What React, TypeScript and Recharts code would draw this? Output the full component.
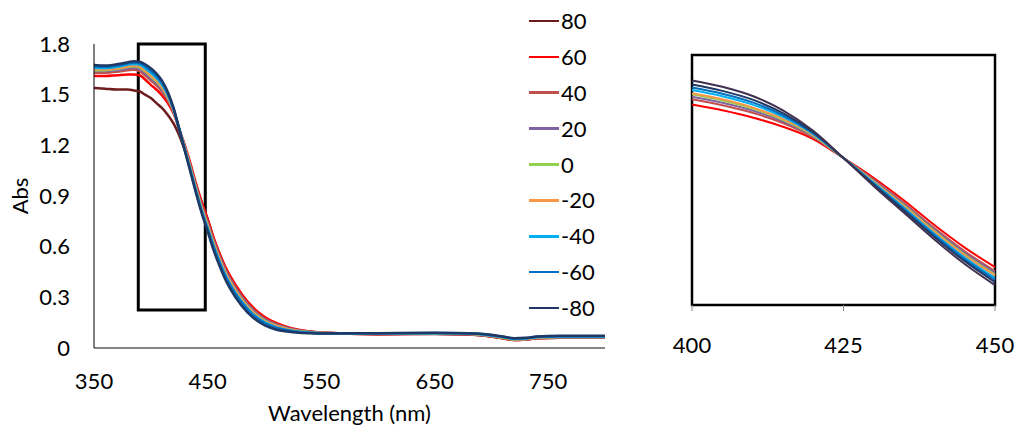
import React from 'react';
import { LineChart, Line, XAxis, YAxis, ReferenceArea, Legend, Label } from 'recharts';

const FONT = 'Lato, "Open Sans", sans-serif';

// wavelength grid (nm)
const WAVELENGTHS = [
  350, 360, 370, 380, 385, 390, 395, 400, 405, 410, 415, 420, 425, 430, 435, 440, 445, 450,
  455, 460, 465, 470, 480, 490, 500, 510, 520, 530, 540, 550, 600, 650, 680, 700, 710, 720,
  730, 740, 760, 800,
];

// absorbance per temperature
const ABS_80 = [
  1.54, 1.535, 1.53, 1.53, 1.525, 1.52, 1.5, 1.48, 1.45, 1.42, 1.38, 1.33, 1.26, 1.17, 1.07, 0.96, 0.86, 0.765,
  0.655, 0.565, 0.485, 0.42, 0.315, 0.235, 0.18, 0.145, 0.12, 0.105, 0.096, 0.09,
  0.082, 0.083, 0.08, 0.068, 0.057, 0.047, 0.05, 0.057, 0.06, 0.06,
];
const ABS_60 = [
  1.61, 1.61, 1.615, 1.62, 1.62, 1.615, 1.59, 1.558, 1.53, 1.495, 1.45, 1.39, 1.297, 1.2, 1.09, 0.97, 0.86, 0.765,
  0.66, 0.57, 0.49, 0.425, 0.32, 0.24, 0.185, 0.15, 0.125, 0.108, 0.098, 0.092,
  0.082, 0.084, 0.081, 0.068, 0.057, 0.047, 0.05, 0.058, 0.061, 0.061,
];
const ABS_40 = [
  1.63, 1.63, 1.635, 1.645, 1.648, 1.64, 1.615, 1.584, 1.555, 1.518, 1.468, 1.399, 1.297, 1.191, 1.077, 0.955, 0.842, 0.746,
  0.645, 0.555, 0.475, 0.41, 0.306, 0.228, 0.175, 0.142, 0.12, 0.104, 0.096, 0.091,
  0.083, 0.085, 0.082, 0.07, 0.059, 0.049, 0.051, 0.059, 0.062, 0.062,
];
const ABS_20 = [
  1.64, 1.64, 1.645, 1.655, 1.66, 1.652, 1.627, 1.596, 1.567, 1.529, 1.476, 1.403, 1.297, 1.187, 1.071, 0.948, 0.834, 0.737,
  0.638, 0.548, 0.468, 0.403, 0.299, 0.222, 0.17, 0.138, 0.117, 0.103, 0.095, 0.09,
  0.084, 0.086, 0.083, 0.071, 0.06, 0.05, 0.052, 0.06, 0.063, 0.063,
];
const ABS_0 = [
  1.645, 1.645, 1.652, 1.665, 1.668, 1.662, 1.638, 1.608, 1.578, 1.539, 1.484, 1.407, 1.297, 1.183, 1.065, 0.941, 0.826, 0.728,
  0.626, 0.536, 0.456, 0.391, 0.289, 0.213, 0.163, 0.132, 0.113, 0.1, 0.093, 0.089,
  0.085, 0.087, 0.084, 0.072, 0.061, 0.051, 0.053, 0.061, 0.065, 0.065,
];
const ABS_M20 = [
  1.65, 1.65, 1.655, 1.668, 1.672, 1.666, 1.642, 1.613, 1.584, 1.544, 1.488, 1.409, 1.297, 1.181, 1.062, 0.937, 0.822, 0.724,
  0.623, 0.533, 0.453, 0.388, 0.285, 0.21, 0.16, 0.13, 0.112, 0.099, 0.093, 0.089,
  0.085, 0.087, 0.085, 0.073, 0.062, 0.052, 0.054, 0.062, 0.066, 0.066,
];
const ABS_M40 = [
  1.66, 1.658, 1.665, 1.678, 1.682, 1.678, 1.657, 1.629, 1.599, 1.558, 1.498, 1.414, 1.297, 1.176, 1.054, 0.928, 0.812, 0.712,
  0.611, 0.521, 0.441, 0.376, 0.275, 0.201, 0.153, 0.124, 0.107, 0.096, 0.091, 0.088,
  0.086, 0.088, 0.086, 0.074, 0.064, 0.054, 0.056, 0.064, 0.068, 0.068,
];
const ABS_M60 = [
  1.668, 1.665, 1.672, 1.685, 1.69, 1.686, 1.668, 1.641, 1.611, 1.569, 1.506, 1.418, 1.297, 1.172, 1.048, 0.921, 0.804, 0.703,
  0.604, 0.514, 0.434, 0.369, 0.268, 0.195, 0.148, 0.12, 0.105, 0.095, 0.09, 0.088,
  0.087, 0.089, 0.087, 0.076, 0.066, 0.056, 0.058, 0.066, 0.07, 0.07,
];
const ABS_M80 = [
  1.675, 1.672, 1.68, 1.692, 1.698, 1.695, 1.68, 1.656, 1.625, 1.582, 1.516, 1.423, 1.297, 1.167, 1.04, 0.912, 0.794, 0.692,
  0.585, 0.495, 0.415, 0.35, 0.25, 0.18, 0.135, 0.11, 0.098, 0.09, 0.087, 0.086,
  0.088, 0.09, 0.088, 0.078, 0.068, 0.058, 0.06, 0.068, 0.072, 0.072,
];
// extra curve only seen in the zoomed panel (400-450 nm, 5 nm steps)
const INSET_EXTRA = [1.676, 1.645, 1.6, 1.53, 1.43, 1.297, 1.16, 1.03, 0.9, 0.78, 0.677];

const SERIES = [
  { key: 't80', name: '80', color: '#6e1b1b', values: ABS_80 },
  { key: 't60', name: '60', color: '#ff0000', values: ABS_60 },
  { key: 't40', name: '40', color: '#c0504d', values: ABS_40 },
  { key: 't20', name: '20', color: '#8064a2', values: ABS_20 },
  { key: 't0', name: '0', color: '#92d050', values: ABS_0 },
  { key: 'tm20', name: '-20', color: '#f79646', values: ABS_M20 },
  { key: 'tm40', name: '-40', color: '#00b0f0', values: ABS_M40 },
  { key: 'tm60', name: '-60', color: '#0070c0', values: ABS_M60 },
  { key: 'tm80', name: '-80', color: '#1f3864', values: ABS_M80 },
];

const X_TICKS = [350, 450, 550, 650, 750];
const Y_TICKS = [0, 0.3, 0.6, 0.9, 1.2, 1.5, 1.8];
const INSET_TICKS = [400, 425, 450];

const rows = WAVELENGTHS.map((wl, i) => {
  const row: Record<string, number> = { wl };
  SERIES.forEach((s) => {
    row[s.key] = s.values[i];
  });
  return row;
});

const insetRows = rows
  .filter((r) => r.wl >= 400 && r.wl <= 450)
  .map((r, i) => ({ ...r, extra: INSET_EXTRA[i] }));

const tickStyle = { fontSize: 22, fill: '#000', fontFamily: FONT };

const renderLegend = () => (
  <div style={{ fontFamily: FONT, fontSize: 22, color: '#000', lineHeight: 1 }}>
    {SERIES.map((s) => (
      <div key={s.key} style={{ display: 'flex', alignItems: 'center', height: 35.9 }}>
        <span style={{ display: 'inline-block', width: 30, height: 2.5, background: s.color, marginRight: 2 }} />
        <span>{s.name}</span>
      </div>
    ))}
  </div>
);

export default function App() {
  return (
    <div style={{ position: 'absolute', left: 0, top: 0, width: 1018, height: 431, background: '#fff', fontFamily: FONT }}>
      <div style={{ position: 'absolute', left: 0, top: 0 }}>
        <LineChart width={625} height={431} data={rows} margin={{ top: 44, right: 20, bottom: 33, left: 0 }}>
          <XAxis
            dataKey="wl"
            type="number"
            domain={[350, 800]}
            ticks={X_TICKS}
            interval={0}
            tickLine={false}
            tickSize={6}
            tickMargin={19}
            height={50}
            axisLine={{ stroke: '#868686', strokeWidth: 2 }}
            tick={tickStyle}
          >
            <Label
              content={({ viewBox }: any) => (
                <text x={viewBox.x + viewBox.width / 2} y={421} textAnchor="middle" fontSize={22} fontFamily={FONT} fill="#000">
                  Wavelength (nm)
                </text>
              )}
            />
          </XAxis>
          <YAxis
            type="number"
            domain={[0, 1.8]}
            ticks={Y_TICKS}
            interval={0}
            width={94}
            tickLine={false}
            tickSize={6}
            tickMargin={18}
            axisLine={{ stroke: '#000', strokeWidth: 1 }}
            tick={tickStyle}
            tickFormatter={(v: number) => String(v)}
          >
            <Label
              content={({ viewBox }: any) => {
                const cy = viewBox.y + viewBox.height / 2;
                return (
                  <text x={28} y={cy} transform={`rotate(-90 28 ${cy})`} textAnchor="middle" fontSize={22} fontFamily={FONT} fill="#000">
                    Abs
                  </text>
                );
              }}
            />
          </YAxis>
          {SERIES.map((s) => (
            <Line
              key={s.key}
              type="monotone"
              dataKey={s.key}
              name={s.name}
              stroke={s.color}
              strokeWidth={2.5}
              dot={false}
              activeDot={false}
              isAnimationActive={false}
            />
          ))}
          <ReferenceArea x1={389} x2={448} y1={0.225} y2={1.8} fill="none" stroke="#000" strokeWidth={3} ifOverflow="visible" />
          <Legend
            layout="vertical"
            align="center"
            verticalAlign="middle"
            content={renderLegend}
            wrapperStyle={{ left: 529, top: 3, width: 'auto' }}
          />
        </LineChart>
      </div>
      <div style={{ position: 'absolute', left: 640, top: 0 }}>
        <LineChart width={378} height={431} data={insetRows} margin={{ top: 55, right: 23, bottom: 86, left: 52 }}>
          <XAxis
            dataKey="wl"
            type="number"
            domain={[400, 450]}
            ticks={INSET_TICKS}
            interval={0}
            height={40}
            axisLine={false}
            tickLine={{ stroke: '#888' }}
            tickSize={6}
            tickMargin={26}
            tick={tickStyle}
          />
          <YAxis type="number" domain={[0.58, 1.8]} hide />
          {SERIES.slice(1).map((s) => (
            <Line
              key={s.key}
              type="monotone"
              dataKey={s.key}
              stroke={s.color}
              strokeWidth={2}
              dot={false}
              activeDot={false}
              isAnimationActive={false}
            />
          ))}
          <Line type="monotone" dataKey="extra" stroke="#403151" strokeWidth={2} dot={false} activeDot={false} isAnimationActive={false} />
          <ReferenceArea x1={400} x2={450} y1={0.58} y2={1.8} fill="none" stroke="#000" strokeWidth={2.5} ifOverflow="visible" />
        </LineChart>
      </div>
    </div>
  );
}
